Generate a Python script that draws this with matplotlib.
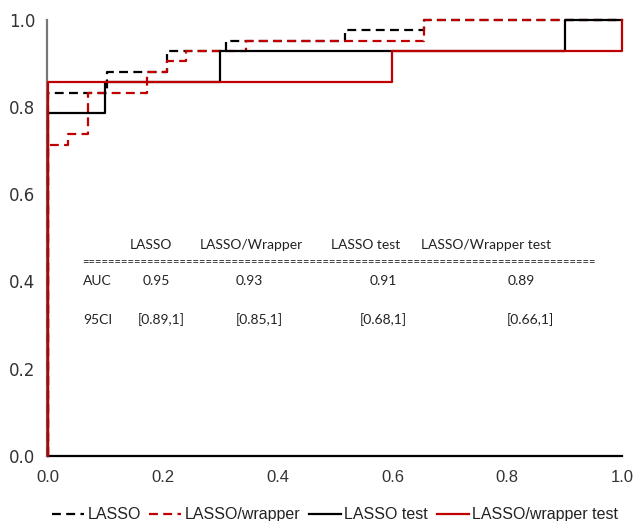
import matplotlib
matplotlib.use("Agg")
import matplotlib.pyplot as plt
import numpy as np

# ---- ROC step points (fpr, tpr) ----
lasso_fpr = [0, 0, 0.103, 0.207, 0.310, 0.517, 0.655, 1.0]
lasso_tpr = [0, 0.833, 0.881, 0.929, 0.952, 0.976, 1.0, 1.0]

wrap_fpr = [0, 0, 0.034, 0.069, 0.172, 0.207, 0.241, 0.345, 0.655, 1.0]
wrap_tpr = [0, 0.714, 0.738, 0.833, 0.881, 0.905, 0.929, 0.952, 1.0, 1.0]

lasso_test_fpr = [0, 0, 0.1, 0.3, 0.9, 1.0]
lasso_test_tpr = [0, 0.786, 0.857, 0.929, 1.0, 1.0]

wrap_test_fpr = [0, 0, 0.6, 1.0, 1.0]
wrap_test_tpr = [0, 0.857, 0.929, 0.929, 1.0]

legend_labels = ["LASSO", "LASSO/wrapper", "LASSO test", "LASSO/wrapper test"]

# ---- summary table ----
table_cols = ["LASSO", "LASSO/Wrapper", "LASSO test", "LASSO/Wrapper test"]
auc_vals = ["0.95", "0.93", "0.91", "0.89"]
ci_vals = ["[0.89,1]", "[0.85,1]", "[0.68,1]", "[0.66,1]"]

RED = "#C00000"

fig = plt.figure(figsize=(6.36, 5.21), dpi=100)
ax = fig.add_axes([0.0755, 0.125, 0.9025, 0.837])

lw = 1.6
dash = (4.0, 2.4)
ax.plot(lasso_fpr, lasso_tpr, drawstyle="steps-post", color="black", lw=lw,
        dashes=dash, label=legend_labels[0], clip_on=False, zorder=3)
ax.plot(wrap_fpr, wrap_tpr, drawstyle="steps-post", color=RED, lw=lw,
        dashes=dash, label=legend_labels[1], clip_on=False, zorder=3)
ax.plot(lasso_test_fpr, lasso_test_tpr, drawstyle="steps-post", color="black",
        lw=lw, label=legend_labels[2], clip_on=False, zorder=3)
ax.plot(wrap_test_fpr, wrap_test_tpr, drawstyle="steps-post", color=RED,
        lw=lw, label=legend_labels[3], clip_on=False, zorder=3)

ax.set_xlim(0, 1)
ax.set_ylim(0, 1)
ticks = np.arange(0, 1.01, 0.2)
ax.set_xticks(ticks)
ax.set_yticks(ticks)
ax.set_xticklabels(["%.1f" % t for t in ticks])
ax.set_yticklabels(["%.1f" % t for t in ticks])
ax.tick_params(length=0, labelsize=12, labelcolor="#333333")
ax.tick_params(axis="y", pad=8)
ax.tick_params(axis="x", pad=10)
for t in ax.get_xticklabels() + ax.get_yticklabels():
    t.set_family("Liberation Sans")

ax.spines["top"].set_visible(False)
ax.spines["right"].set_visible(False)
ax.spines["left"].set_color("#777777")
ax.spines["bottom"].set_color("black")
ax.spines["left"].set_linewidth(1.6)
ax.spines["bottom"].set_linewidth(1.6)
ax.spines["left"].set_position(("outward", 1.0))

#-----table text inside the plot-----
tf = dict(family="Lato", fontsize=10, color="#222222")
hdr_x = [0.179, 0.354, 0.554, 0.763]
auc_x = [0.188, 0.350, 0.584, 0.824]
ci_x = [0.197, 0.368, 0.584, 0.840]
for x, s in zip(hdr_x, table_cols):
    ax.text(x, 0.484, s, ha="center", va="center", **tf)
ax.text(0.059, 0.445, "=" * 79, ha="left", va="center",
        family="Lato", fontsize=8, color="#222222")
ax.text(0.061, 0.402, "AUC", ha="left", va="center", **tf)
ax.text(0.061, 0.312, "95CI", ha="left", va="center", **tf)
for x, s in zip(auc_x, auc_vals):
    ax.text(x, 0.402, s, ha="center", va="center", **tf)
for x, s in zip(ci_x, ci_vals):
    ax.text(x, 0.312, s, ha="center", va="center", **tf)

leg = ax.legend(loc="upper center", bbox_to_anchor=(0.5, -0.085), ncol=4,
                frameon=False, handlelength=2.0, columnspacing=0.55,
                handletextpad=0.2, prop={"family": "Liberation Sans", "size": 11.5})
for t in leg.get_texts():
    t.set_color("#222222")

fig.savefig("out.png", dpi=100)
